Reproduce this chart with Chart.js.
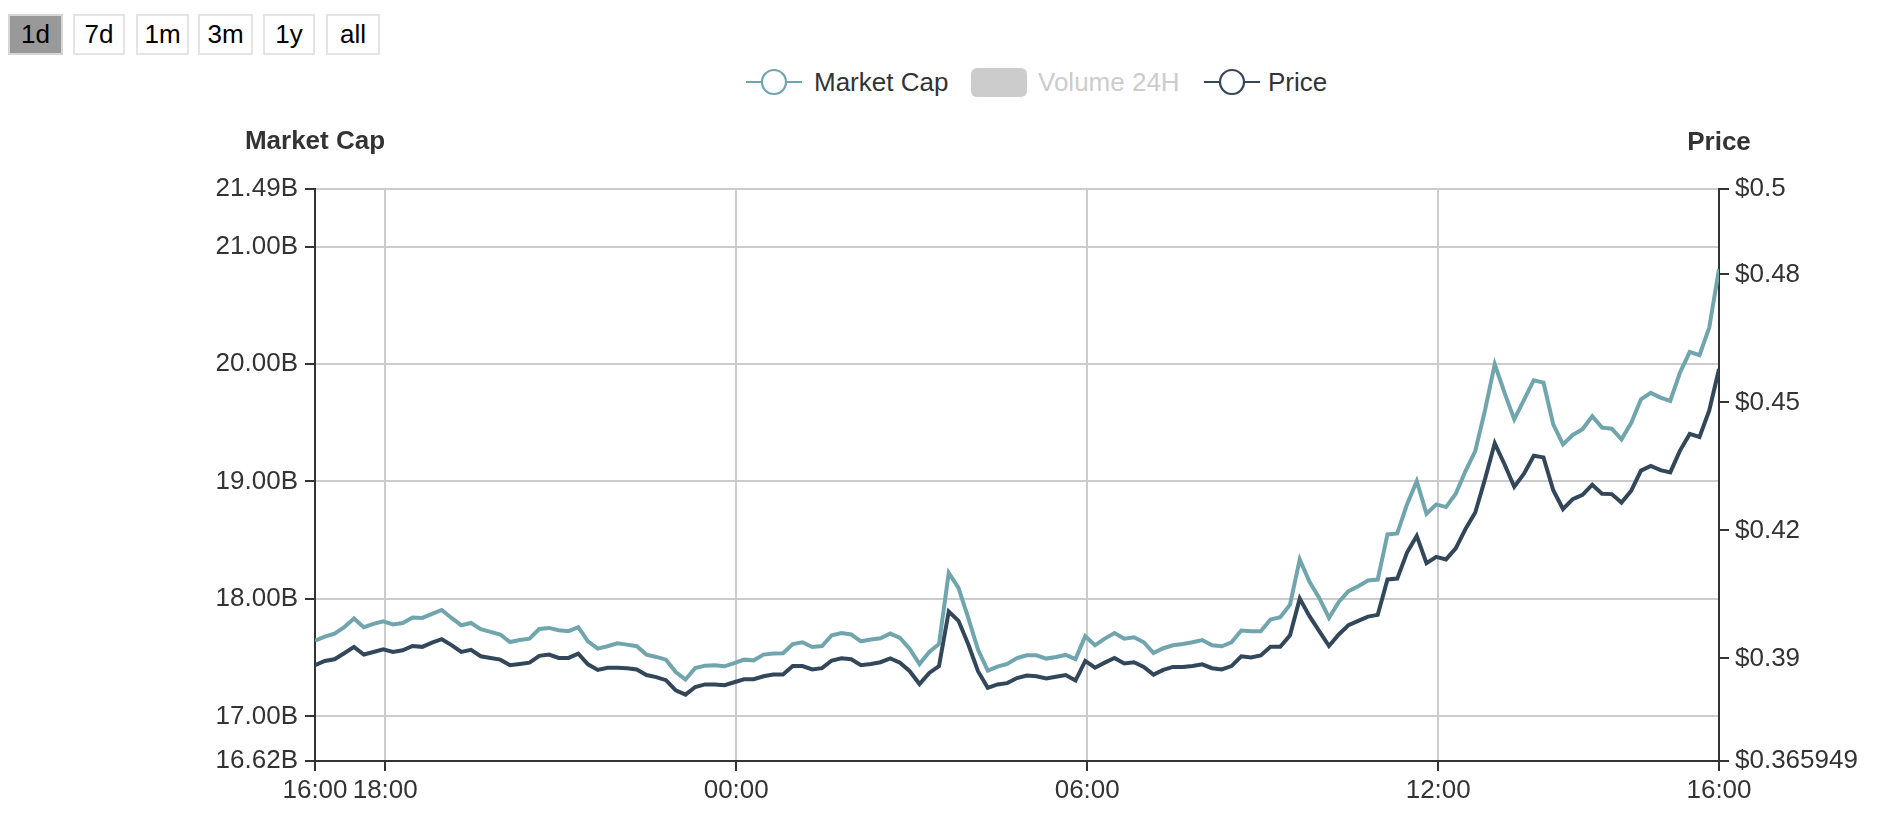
<!DOCTYPE html>
<html>
<head>
<meta charset="utf-8">
<script src="https://cdn.jsdelivr.net/npm/chart.js@4"></script>
<style>
  html, body { margin: 0; padding: 0; background: #fff; }
  body { width: 1878px; height: 826px; position: relative; overflow: hidden; font-family: "Liberation Sans", Arial, Helvetica, sans-serif; }
  .btn { position: absolute; top: 14px; height: 41px; box-sizing: border-box; border: 2px solid #e4e4e4; background: #fff;
         font-size: 26px; color: #000; display: flex; align-items: center; justify-content: center; }
  .btn.active { background: #999; border-color: #d6d6d6; }
  .leg { position: absolute; top: 67px; height: 30px; display: flex; align-items: center; font-size: 26px; color: #333; white-space: nowrap; }
  #wrap { position: absolute; left: 0; top: 0; width: 1878px; height: 826px; }
</style>
</head>
<body>
<div class="btn active" style="left:8px;width:55px">1d</div>
<div class="btn" style="left:73px;width:52px">7d</div>
<div class="btn" style="left:136px;width:53px">1m</div>
<div class="btn" style="left:198px;width:55px">3m</div>
<div class="btn" style="left:263px;width:52px">1y</div>
<div class="btn" style="left:326px;width:54px">all</div>

<div class="leg" style="left:746px">
  <svg width="56" height="30"><line x1="0" y1="15" x2="56" y2="15" stroke="#70a5ad" stroke-width="2.2"/><circle cx="28" cy="15" r="12" fill="#fff" stroke="#70a5ad" stroke-width="2.2"/></svg>
  <span style="margin-left:12px">Market Cap</span>
</div>
<div class="leg" style="left:971px">
  <div style="width:56px;height:29px;border-radius:6px;background:#ccc"></div>
  <span style="margin-left:11px;color:#ccc">Volume 24H</span>
</div>
<div class="leg" style="left:1204px">
  <svg width="56" height="30"><line x1="0" y1="15" x2="56" y2="15" stroke="#33475a" stroke-width="2.2"/><circle cx="28" cy="15" r="12" fill="#fff" stroke="#33475a" stroke-width="2.2"/></svg>
  <span style="margin-left:8px">Price</span>
</div>

<div id="wrap"><canvas id="marketChart"></canvas></div>

<script>
// 10-minute samples over 24h, first sample at 16:48
const startHour = 16.8;
const stepHours = 1 / 6;

// market cap, billions USD
const marketCap = [
  17.645, 17.679, 17.705, 17.759, 17.833, 17.759, 17.787, 17.810, 17.782, 17.795,
  17.841, 17.838, 17.872, 17.906, 17.838, 17.776, 17.795, 17.742, 17.719, 17.697,
  17.633, 17.650, 17.662, 17.744, 17.753, 17.733, 17.725, 17.759, 17.639, 17.577,
  17.597, 17.622, 17.611, 17.597, 17.526, 17.506, 17.483, 17.378, 17.313, 17.412,
  17.432, 17.435, 17.426, 17.454, 17.483, 17.477, 17.526, 17.535, 17.537, 17.616,
  17.631, 17.591, 17.599, 17.691, 17.710, 17.697, 17.639, 17.654, 17.665, 17.705,
  17.668, 17.574, 17.446, 17.548, 17.616, 18.222, 18.094, 17.838, 17.569, 17.390,
  17.424, 17.446, 17.497, 17.520, 17.520, 17.492, 17.506, 17.523, 17.488, 17.682,
  17.605, 17.662, 17.710, 17.662, 17.673, 17.631, 17.540, 17.580, 17.605, 17.616,
  17.631, 17.650, 17.605, 17.597, 17.631, 17.731, 17.725, 17.725, 17.824, 17.844,
  17.951, 18.336, 18.145, 18.008, 17.838, 17.974, 18.066, 18.108, 18.157, 18.165,
  18.549, 18.558, 18.805, 19.003, 18.725, 18.805, 18.782, 18.895, 19.089, 19.259,
  19.606, 19.998, 19.756, 19.529, 19.694, 19.862, 19.841, 19.487, 19.316, 19.396,
  19.444, 19.555, 19.458, 19.449, 19.359, 19.500, 19.700, 19.754, 19.714, 19.685,
  19.927, 20.103, 20.075, 20.310, 20.808
];

// price, USD
const price = [
  0.3884, 0.3894, 0.3898, 0.3912, 0.3927, 0.3909, 0.3915, 0.3921, 0.3915, 0.3919,
  0.3929, 0.3927, 0.3937, 0.3945, 0.3931, 0.3915, 0.3920, 0.3905, 0.3901, 0.3897,
  0.3884, 0.3887, 0.3890, 0.3906, 0.3909, 0.3901, 0.3901, 0.3911, 0.3886, 0.3873,
  0.3878, 0.3878, 0.3877, 0.3874, 0.3861, 0.3856, 0.3849, 0.3825, 0.3815, 0.3833,
  0.3839, 0.3839, 0.3837, 0.3844, 0.3851, 0.3851, 0.3858, 0.3862, 0.3862, 0.3882,
  0.3882, 0.3874, 0.3877, 0.3895, 0.3900, 0.3898, 0.3884, 0.3887, 0.3891, 0.3900,
  0.3890, 0.3870, 0.3840, 0.3866, 0.3882, 0.4010, 0.3988, 0.3933, 0.3870, 0.3831,
  0.3839, 0.3842, 0.3854, 0.3860, 0.3858, 0.3853, 0.3857, 0.3861, 0.3848, 0.3894,
  0.3878, 0.3890, 0.3901, 0.3888, 0.3891, 0.3880, 0.3862, 0.3873, 0.3880, 0.3880,
  0.3882, 0.3886, 0.3877, 0.3874, 0.3882, 0.3905, 0.3902, 0.3907, 0.3927, 0.3927,
  0.3954, 0.4040, 0.3999, 0.3964, 0.3929, 0.3956, 0.3978, 0.3988, 0.3998, 0.4002,
  0.4085, 0.4087, 0.4148, 0.4187, 0.4123, 0.4138, 0.4132, 0.4158, 0.4203, 0.4242,
  0.4320, 0.4404, 0.4355, 0.4302, 0.4333, 0.4375, 0.4371, 0.4294, 0.4250, 0.4273,
  0.4283, 0.4307, 0.4286, 0.4285, 0.4265, 0.4293, 0.4340, 0.4351, 0.4341, 0.4336,
  0.4387, 0.4426, 0.4419, 0.4481, 0.4578
];

// tick values
const timeTicks = [16.8, 18, 24, 30, 36, 40.8];
const capTicks = [16.62, 17, 18, 19, 20, 21, 21.49];
const priceTicks = [0.365949, 0.39, 0.42, 0.45, 0.48, 0.5];

const times = marketCap.map((_, i) => startHour + i * stepHours);

const FONT = '"Liberation Sans", Arial, Helvetica, sans-serif';
const tickFont = { family: FONT, size: 26 };

const axisTitles = {
    id: 'axisTitles',
    afterDraw(chart) {
        const { ctx, chartArea } = chart;
        ctx.save();
        ctx.font = 'bold 26px ' + FONT;
        ctx.fillStyle = '#333';
        ctx.textAlign = 'center';
        ctx.textBaseline = 'alphabetic';
        ctx.fillText('Market Cap', chartArea.left, chartArea.top - 40);
        ctx.fillText('Price', chartArea.right, chartArea.top - 39);
        ctx.restore();
    }
};

const ctx = document.getElementById('marketChart').getContext('2d');
new Chart(ctx, {
    type: 'line',
    data: {
        datasets: [{
            label: 'Market Cap',
            data: times.map((t, i) => ({ x: t, y: marketCap[i] })),
            yAxisID: 'y',
            borderColor: '#70a5ad',
            borderWidth: 4,
            pointRadius: 0,
            tension: 0,
            fill: false
        }, {
            label: 'Price',
            data: times.map((t, i) => ({ x: t, y: price[i] })),
            yAxisID: 'y1',
            borderColor: '#33475a',
            borderWidth: 4,
            pointRadius: 0,
            tension: 0,
            fill: false
        }]
    },
    options: {
        responsive: true,
        maintainAspectRatio: false,
        animation: false,
        layout: { padding: { top: 189, bottom: 5, left: 0, right: 0 } },
        plugins: {
            legend: { display: false },
            tooltip: { enabled: false }
        },
        scales: {
            x: {
                type: 'linear',
                min: 16.8,
                max: 40.8,
                afterBuildTicks: s => { s.ticks = timeTicks.map(v => ({ value: v })); },
                afterFit: s => { s.height = 60; },
                grid: { color: '#ccc', lineWidth: 2, tickColor: '#333', tickLength: 10 },
                border: { color: '#333', width: 2 },
                ticks: {
                    autoSkip: false,
                    maxRotation: 0,
                    padding: 4,
                    color: '#333',
                    font: tickFont,
                    callback: v => String(Math.floor(v % 24)).padStart(2, '0') + ':00'
                }
            },
            y: {
                position: 'left',
                min: 16.62,
                max: 21.49,
                afterBuildTicks: s => { s.ticks = capTicks.map(v => ({ value: v })); },
                afterFit: s => { s.width = 315; },
                grid: { color: '#ccc', lineWidth: 2, tickColor: '#333', tickLength: 10 },
                border: { color: '#333', width: 2 },
                ticks: {
                    padding: 7,
                    color: '#333',
                    font: tickFont,
                    callback: v => v.toFixed(2) + 'B'
                }
            },
            y1: {
                position: 'right',
                min: 0.365949,
                max: 0.5,
                afterBuildTicks: s => { s.ticks = priceTicks.map(v => ({ value: v })); },
                afterFit: s => { s.width = 159; },
                grid: { drawOnChartArea: false, tickColor: '#333', tickLength: 10, lineWidth: 2 },
                border: { color: '#333', width: 2 },
                ticks: {
                    padding: 6,
                    color: '#333',
                    font: tickFont,
                    callback: v => '$' + v
                }
            }
        }
    },
    plugins: [axisTitles]
});
</script>
</body>
</html>
